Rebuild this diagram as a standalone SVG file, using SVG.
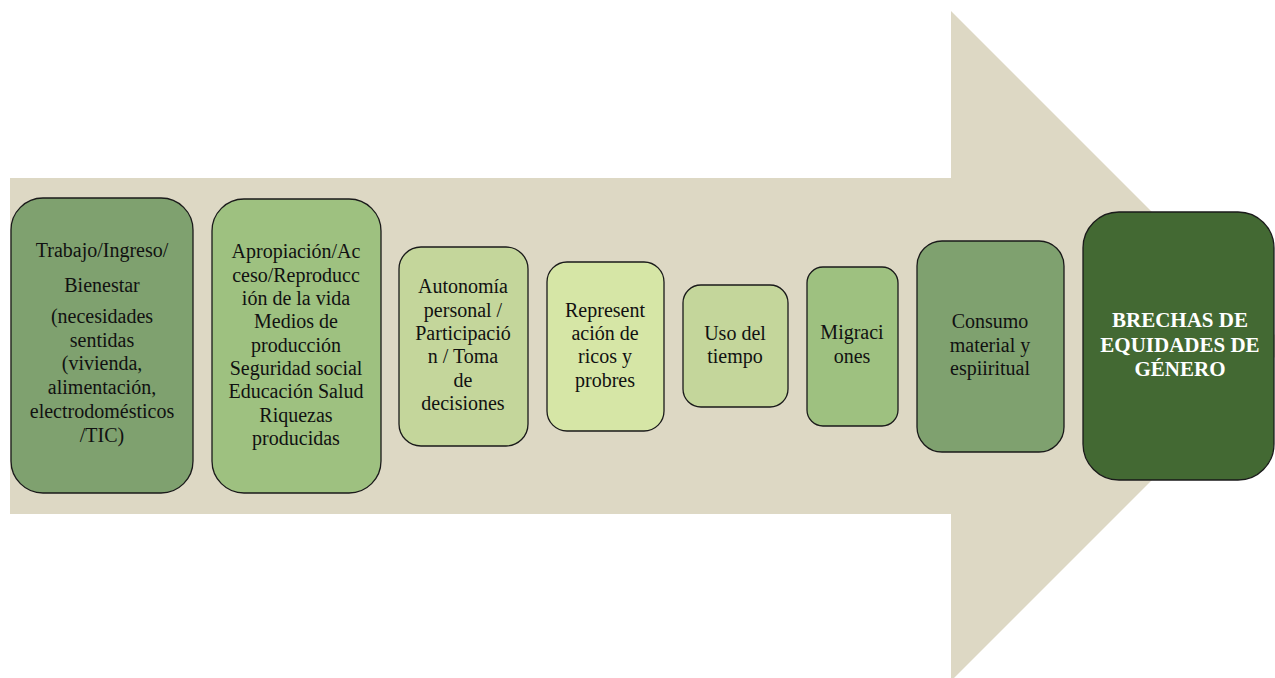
<svg xmlns="http://www.w3.org/2000/svg" width="1275" height="678" viewBox="0 0 1275 678">
<style>
.box{stroke:#1a1a1a;stroke-width:1.3}
.t{font-family:"Liberation Serif","DejaVu Serif",serif;font-size:20px;font-weight:normal;fill:#111;text-anchor:middle}
.tb{font-family:"Liberation Serif","DejaVu Serif",serif;font-size:21px;font-weight:bold;fill:#fff;text-anchor:middle}
</style>
<rect width="1275" height="678" fill="#fff"/>
<polygon id="arrow" points="10,178 951,178 951,11 1286,346 951,681 951,514 10,514" fill="#ddd8c4"/>
<g id="connectors"/>
<g id="n1">
<rect class="box" x="11" y="198" width="182" height="295" rx="32" fill="#7fa16f"/>
<text class="t" x="102" y="257">Trabajo/Ingreso/</text>
<text class="t" x="102" y="292">Bienestar</text>
<text class="t" x="102" y="323">(necesidades</text>
<text class="t" x="102" y="347">sentidas</text>
<text class="t" x="102" y="370">(vivienda,</text>
<text class="t" x="102" y="394">alimentación,</text>
<text class="t" x="102" y="418">electrodomésticos</text>
<text class="t" x="102" y="442">/TIC)</text>
</g>
<g id="n2">
<rect class="box" x="212" y="199" width="169" height="294" rx="32" fill="#9ec180"/>
<text class="t" x="296" y="258">Apropiación/Ac</text>
<text class="t" x="296" y="282">ceso/Reproducc</text>
<text class="t" x="296" y="305">ión de la vida</text>
<text class="t" x="296" y="328">Medios de</text>
<text class="t" x="296" y="352">producción</text>
<text class="t" x="296" y="375">Seguridad social</text>
<text class="t" x="296" y="398">Educación Salud</text>
<text class="t" x="296" y="422">Riquezas</text>
<text class="t" x="296" y="445">producidas</text>
</g>
<g id="n3">
<rect class="box" x="399" y="247" width="129" height="199" rx="22" fill="#c4d69b"/>
<text class="t" x="463" y="293">Autonomía</text>
<text class="t" x="463" y="317">personal /</text>
<text class="t" x="463" y="340">Participació</text>
<text class="t" x="463" y="363">n / Toma</text>
<text class="t" x="463" y="387">de</text>
<text class="t" x="463" y="410">decisiones</text>
</g>
<g id="n4">
<rect class="box" x="547" y="262" width="117" height="169" rx="20" fill="#d6e6a6"/>
<text class="t" x="605" y="317">Represent</text>
<text class="t" x="605" y="340">ación de</text>
<text class="t" x="605" y="363">ricos y</text>
<text class="t" x="605" y="387">probres</text>
</g>
<g id="n5">
<rect class="box" x="683" y="285" width="105" height="122" rx="18" fill="#c4d69b"/>
<text class="t" x="735" y="340">Uso del</text>
<text class="t" x="735" y="363">tiempo</text>
</g>
<g id="n6">
<rect class="box" x="807" y="267" width="91" height="159" rx="16" fill="#9ec180"/>
<text class="t" x="852" y="339">Migraci</text>
<text class="t" x="852" y="363">ones</text>
</g>
<g id="n7">
<rect class="box" x="917" y="241" width="147" height="211" rx="25" fill="#7fa16f"/>
<text class="t" x="990" y="328">Consumo</text>
<text class="t" x="990" y="352">material y</text>
<text class="t" x="990" y="375">espiiritual</text>
</g>
<g id="n8">
<rect class="box" x="1083" y="212" width="191" height="268" rx="36" fill="#436933"/>
<text class="tb" x="1180" y="327">BRECHAS DE</text>
<text class="tb" x="1180" y="352">EQUIDADES DE</text>
<text class="tb" x="1180" y="376">GÉNERO</text>
</g>
</svg>
